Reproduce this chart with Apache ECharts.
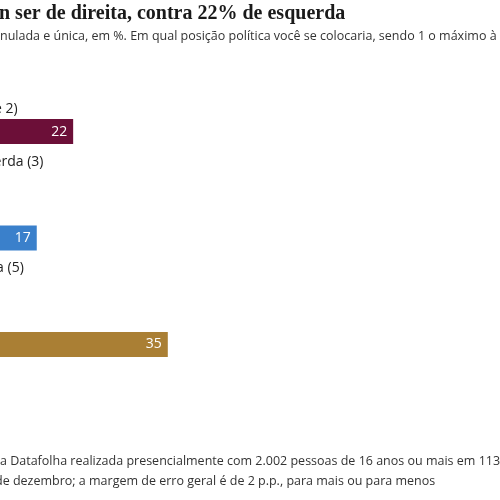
<!DOCTYPE html>
<html>
<head>
<meta charset="utf-8">
<script src="https://cdn.jsdelivr.net/npm/echarts@6/dist/echarts.min.js"></script>
<style>
  html, body { margin: 0; padding: 0; background: #fff; overflow: hidden; }
  #wrap { position: relative; width: 500px; height: 500px; overflow: hidden; }
  /* o gráfico original é mais largo: só a parte direita aparece */
  #chart { position: absolute; left: -90px; top: 0; width: 590px; height: 500px; }
</style>
</head>
<body>
<div id="wrap"><div id="chart"></div></div>
<script>
// dados (Datafolha, dezembro)
const categories = ["Esquerda (1 e 2)", "Centro-esquerda (3)", "Centro (4)", "Centro-direita (5)", "Direita (6 e 7)"];
const values = [22, 9, 17, 11, 35];

const titleText = "n ser de direita, contra 22% de esquerda";
const subtitleText = "nulada e única, em %. Em qual posição política você se colocaria, sendo 1 o máximo à";
const noteLine1 = "a Datafolha realizada presencialmente com 2.002 pessoas de 16 anos ou mais em 113 m";
const noteLine2 = "de dezembro; a margem de erro geral é de 2 p.p., para mais ou para menos";

const palette = ["#6c0f38", "#b05a7e", "#3a80cb", "#d2ae66", "#aa7f34"];
const shift = 90; // deslocamento do div

const chart = echarts.init(document.getElementById("chart"));

chart.setOption({
    animation: false,
    backgroundColor: "#fff",
    grid: { left: 0, right: 223, top: 105, height: 266 },
    xAxis: { type: "value", min: 0, max: 50, show: false },
    yAxis: {
        type: "category",
        inverse: true,
        data: categories,
        axisLine: { show: false },
        axisTick: { show: false },
        axisLabel: {
            inside: true,
            margin: 0,
            align: "left",
            verticalAlign: "bottom",
            lineHeight: 18,
            padding: [0, 0, 14, 0],
            fontFamily: "Open Sans",
            fontSize: 14,
            color: "#222"
        }
    },
    series: [{
        type: "bar",
        barWidth: 25,
        data: values.map((v, i) => ({ value: v, itemStyle: { color: palette[i] } })),
        label: {
            show: true,
            position: "insideRight",
            distance: 6,
            color: "#fff",
            fontFamily: "Open Sans",
            fontSize: 14
        }
    }],
    graphic: [
        {
            type: "text", left: shift - 1, top: 4,
            style: { text: titleText, fill: "#1a1a1a", font: "bold 20px 'Liberation Serif'" }
        },
        {
            type: "text", left: shift, top: 30,
            style: { text: subtitleText, fill: "#333", font: "12.5px 'Open Sans'" }
        },
        {
            type: "text", left: shift, top: 455,
            style: { text: noteLine1, fill: "#333", font: "12.5px 'Open Sans'" }
        },
        {
            type: "text", left: shift - 5, top: 475,
            style: { text: noteLine2, fill: "#333", font: "12.5px 'Open Sans'" }
        }
    ]
});
</script>
</body>
</html>
